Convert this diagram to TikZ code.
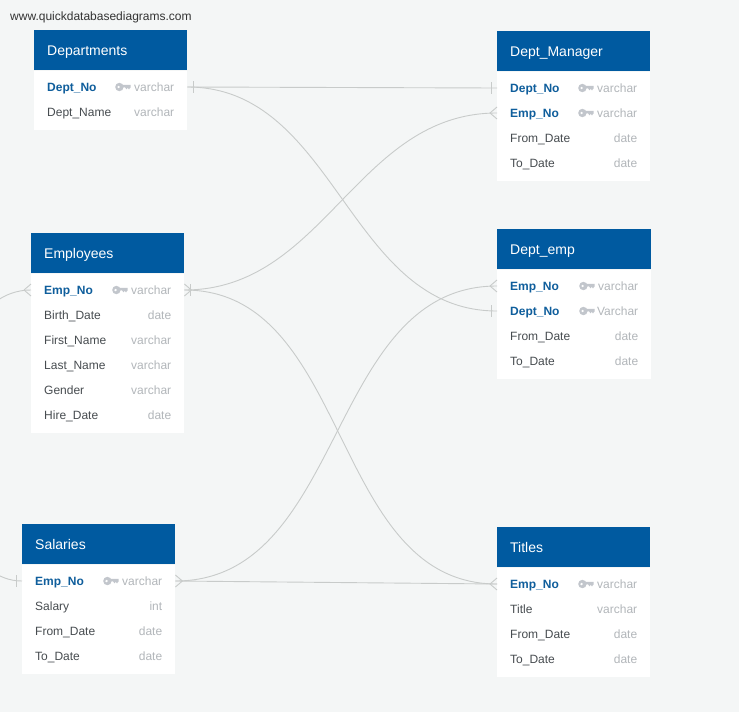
\documentclass[tikz,border=0pt]{standalone}
\usepackage{fontspec}
\setmainfont{Liberation Sans}
\usetikzlibrary{calc}
\definecolor{pagebg}{HTML}{F4F6F6}
\definecolor{headblue}{HTML}{005AA0}
\definecolor{pkblue}{HTML}{0F5E9C}
\definecolor{fieldgrey}{HTML}{474C50}
\definecolor{typegrey}{HTML}{B2B6BA}
\definecolor{keygrey}{HTML}{C2C6CC}
\definecolor{linegrey}{HTML}{C8CBCA}
\tikzset{
  x=1pt,y=-1pt,
  headbox/.style={fill=headblue,inner sep=0pt,minimum height=40pt,anchor=north west},
  bodybox/.style={fill=white,inner sep=0pt,anchor=north west},
  headtext/.style={text=white,font=\fontsize{14}{16}\selectfont,inner sep=0pt,anchor=base west},
  rowbox/.style={inner sep=0pt,minimum height=25pt,anchor=west},
  fieldtext/.style={text=fieldgrey,font=\fontsize{12}{14}\selectfont,inner sep=0pt,anchor=base west},
  pktext/.style={text=pkblue,font=\bfseries\fontsize{12}{14}\selectfont,inner sep=0pt,anchor=base west},
  typetext/.style={text=typegrey,font=\fontsize{12}{14}\selectfont,inner sep=0pt,anchor=base east},
  rel/.style={draw=linegrey,line width=0.9pt},
  curve/.style={rel,out=0,in=180,looseness=1},
}
% id, x, top, width, body height, title
\newcommand\ertable[6]{%
  \node[headbox,minimum width=#4pt] (#1) at (#2,#3) {};
  \node[bodybox,minimum width=#4pt,minimum height=#5pt-0.6pt] (#1b) at (#1.south west) {};
  \node[headtext] (#1t) at ($(#1.west)+(13,5)$) {#6};
}
% row id, table id, x, y, width, field, type
\newcommand\frow[7]{%
  \node[rowbox,minimum width=#5pt] (#1) at (#3,#4) {};
  \node[fieldtext] (#1n) at ($(#1.west)+(13,4.2)$) {#6};
  \node[typetext] (#1y) at ($(#1.east)+(-13,4.2)$) {#7};
}
\newcommand\pkrow[7]{%
  \node[rowbox,minimum width=#5pt] (#1) at (#3,#4) {};
  \node[pktext] (#1n) at ($(#1.west)+(13,4.2)$) {#6};
  \node[typetext] (#1y) at ($(#1.east)+(-13,4.2)$) {#7};
  \fill[keygrey,even odd rule] ($(#1.east)+(-68,0)$) circle (4.2pt) ($(#1.east)+(-68.8,0)$) circle (1.6pt);
  \fill[keygrey] ($(#1.east)+(-65,-2.2)$) -- ++(8.2,0) -- ++(0,2.6) -- ++(-1.6,1.9) -- ++(-1.3,-1.4) -- ++(-1.3,1.4) -- ++(-1.3,-1.9) -- ++(-2.7,0) -- cycle;
}
% crow's foot and tick: end point, direction (+1 right of point, -1 left)
\newcommand\crow[2]{%
  \draw[rel] ($(#1)+(#2*7,0)$) -- ($(#1)+(0,-6)$) ($(#1)+(#2*7,0)$) -- ($(#1)+(0,6)$);
}
\newcommand\tick[2]{%
  \draw[rel] ($(#1)+(#2*6,-6)$) -- ($(#1)+(#2*6,6)$);
}
\begin{document}
\begin{tikzpicture}
\fill[pagebg] (0,0) rectangle (739,712);
\useasboundingbox (0,0) rectangle (739,712);
\clip (0,0) rectangle (739,712);

\node[inner sep=0pt,anchor=base west,text=black!80,font=\fontsize{12}{14}\selectfont] (site) at (10,20) {www.quickdatabasediagrams.com};

\ertable{dep}{34}{30}{153}{60}{Departments}
\pkrow{depA}{dep}{34}{87}{153}{Dept\_No}{varchar}
\frow{depB}{dep}{34}{112}{153}{Dept\_Name}{varchar}

\ertable{man}{497}{31}{153}{110}{Dept\_Manager}
\pkrow{manA}{man}{497}{88}{153}{Dept\_No}{varchar}
\pkrow{manB}{man}{497}{113}{153}{Emp\_No}{varchar}
\frow{manC}{man}{497}{138}{153}{From\_Date}{date}
\frow{manD}{man}{497}{163}{153}{To\_Date}{date}

\ertable{emp}{31}{233}{153}{160}{Employees}
\pkrow{empA}{emp}{31}{290}{153}{Emp\_No}{varchar}
\frow{empB}{emp}{31}{315}{153}{Birth\_Date}{date}
\frow{empC}{emp}{31}{340}{153}{First\_Name}{varchar}
\frow{empD}{emp}{31}{365}{153}{Last\_Name}{varchar}
\frow{empE}{emp}{31}{390}{153}{Gender}{varchar}
\frow{empF}{emp}{31}{415}{153}{Hire\_Date}{date}

\ertable{dem}{497}{229}{154}{110}{Dept\_emp}
\pkrow{demA}{dem}{497}{286}{154}{Emp\_No}{varchar}
\pkrow{demB}{dem}{497}{311}{154}{Dept\_No}{Varchar}
\frow{demC}{dem}{497}{336}{154}{From\_Date}{date}
\frow{demD}{dem}{497}{361}{154}{To\_Date}{date}

\ertable{sal}{22}{524}{153}{110}{Salaries}
\pkrow{salA}{sal}{22}{581}{153}{Emp\_No}{varchar}
\frow{salB}{sal}{22}{606}{153}{Salary}{int}
\frow{salC}{sal}{22}{631}{153}{From\_Date}{date}
\frow{salD}{sal}{22}{656}{153}{To\_Date}{date}

\ertable{tit}{497}{527}{153}{110}{Titles}
\pkrow{titA}{tit}{497}{584}{153}{Emp\_No}{varchar}
\frow{titB}{tit}{497}{609}{153}{Title}{varchar}
\frow{titC}{tit}{497}{634}{153}{From\_Date}{date}
\frow{titD}{tit}{497}{659}{153}{To\_Date}{date}

% connectors
\draw[rel] (depA.east) -- (manA.west);
\draw[rel] (depA.east) to[curve] (demB.west);
\draw[rel] (empA.east) to[curve] (manB.west);
\draw[rel] (empA.east) to[curve] (titA.west);
\draw[rel] (salA.east) to[curve] (demA.west);
\draw[rel] (salA.east) -- (titA.west);
\draw[rel] (empA.west) .. controls (-80,290) and (-80,581) .. (salA.west);

% line ends
\tick{depA.east}{1}
\tick{manA.west}{-1}
\crow{manB.west}{-1}
\crow{empA.east}{1}
\tick{empA.east}{1}
\crow{empA.west}{-1}
\tick{salA.west}{-1}
\crow{salA.east}{1}
\crow{demA.west}{-1}
\tick{demB.west}{-1}
\crow{titA.west}{-1}
\end{tikzpicture}
\end{document}
